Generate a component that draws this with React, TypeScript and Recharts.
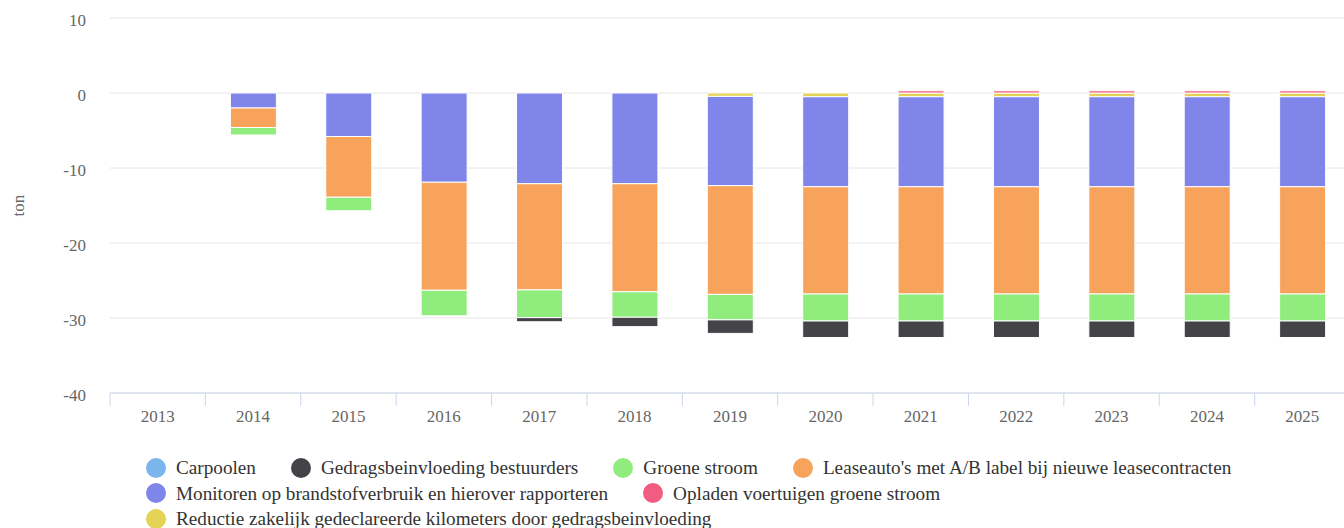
import React from 'react';
import { BarChart, Bar, XAxis, YAxis, CartesianGrid } from 'recharts';

const years = ['2013', '2014', '2015', '2016', '2017', '2018', '2019', '2020', '2021', '2022', '2023', '2024', '2025'];

const carpoolen = [0, 0, 0, 0, 0, 0, 0, 0, 0, 0, 0, 0, 0];
const gedragsbeinvloeding = [0, 0, 0, 0, -0.55, -1.25, -1.8, -2.2, -2.2, -2.2, -2.2, -2.2, -2.2];
const groeneStroom = [0, -1.0, -1.8, -3.4, -3.7, -3.4, -3.4, -3.6, -3.6, -3.6, -3.6, -3.6, -3.6];
const leaseauto = [0, -2.6, -8.1, -14.4, -14.15, -14.4, -14.5, -14.3, -14.3, -14.3, -14.3, -14.3, -14.3];
const monitoren = [0, -2.0, -5.8, -11.9, -12.1, -12.1, -11.9, -12.0, -12.0, -12.0, -12.0, -12.0, -12.0];
const opladen = [0, 0, 0, 0, 0, 0, 0, 0, 0.3, 0.3, 0.3, 0.3, 0.3];
const reductie = [0, 0, 0, 0, 0, 0, -0.45, -0.5, -0.5, -0.5, -0.5, -0.5, -0.5];

const yTicks = [-40, -30, -20, -10, 0, 10];

// legend order
const legendSeries = [
  { key: 'carpoolen', name: 'Carpoolen', color: '#7cb5ec' },
  { key: 'gedrags', name: 'Gedragsbeinvloeding bestuurders', color: '#434348' },
  { key: 'groene', name: 'Groene stroom', color: '#90ed7d' },
  { key: 'lease', name: "Leaseauto's met A/B label bij nieuwe leasecontracten", color: '#f7a35c' },
  { key: 'monitoren', name: 'Monitoren op brandstofverbruik en hierover rapporteren', color: '#8085e9' },
  { key: 'opladen', name: 'Opladen voertuigen groene stroom', color: '#f15c80' },
  { key: 'reductie', name: 'Reductie zakelijk gedeclareerde kilometers door gedragsbeinvloeding', color: '#e4d354' },
];

// stacking order (closest to zero first)
const stackOrder = ['reductie', 'monitoren', 'lease', 'groene', 'gedrags', 'carpoolen', 'opladen'];

const data = years.map((y, i) => ({
  year: y,
  carpoolen: carpoolen[i],
  gedrags: gedragsbeinvloeding[i],
  groene: groeneStroom[i],
  lease: leaseauto[i],
  monitoren: monitoren[i],
  opladen: opladen[i],
  reductie: reductie[i],
}));

const FONT = '"Liberation Serif", "Times New Roman", serif';
const TICK_SIZE = 13;
const TICK_MARGIN = 4;

const XTick = (props: any) => {
  const { x, y, payload } = props;
  const off = payload && payload.offset ? payload.offset : 0;
  const axisY = y - TICK_SIZE - TICK_MARGIN;
  return (
    <g>
      <line x1={x - off} x2={x - off} y1={axisY} y2={axisY + TICK_SIZE} stroke="#ccd6eb" strokeWidth={1} />
      <text x={x} y={y} dy="0.71em" textAnchor="middle" fill="#666666" fontFamily="Liberation Serif" style={{ fontSize: 17, fontFamily: FONT }}>
        {payload.value}
      </text>
    </g>
  );
};

const YTick = (props: any) => {
  const { x, y, payload } = props;
  return (
    <text x={x} y={y} dy="0.45em" textAnchor="end" fill="#666666" fontFamily="Liberation Serif" style={{ fontSize: 17, fontFamily: FONT }}>
      {payload.value}
    </text>
  );
};

const YLabel = (props: any) => {
  const vb = props.viewBox || {};
  const cx = 18;
  const cy = (vb.y || 0) + (vb.height || 0) / 2;
  return (
    <text x={cx} y={cy} transform={`rotate(-90 ${cx} ${cy})`} textAnchor="middle" dominantBaseline="central" fill="#666666" fontFamily="Liberation Serif" style={{ fontSize: 17, fontFamily: FONT }}>
      ton
    </text>
  );
};

export default function App() {
  const byKey: Record<string, { key: string; name: string; color: string }> = {};
  legendSeries.forEach((s) => (byKey[s.key] = s));
  return (
    <div style={{ position: 'absolute', left: 0, top: 0, width: 1344, height: 528, overflow: 'hidden', background: '#fff', fontFamily: FONT }}>
      <BarChart
        width={1352}
        height={435}
        data={data}
        stackOffset="sign"
        margin={{ top: 18, right: 2, left: 0, bottom: 0 }}
        barSize={46}
        style={{ fontFamily: FONT }}
      >
        <CartesianGrid vertical={false} stroke="#e6e6e6" />
        <XAxis
          dataKey="year"
          height={42}
          axisLine={{ stroke: '#ccd6eb' }}
          tickLine={false}
          tickSize={TICK_SIZE}
          tickMargin={TICK_MARGIN}
          tick={<XTick />}
          interval={0}
        />
        <YAxis
          width={110}
          domain={[-40, 10]}
          ticks={yTicks}
          allowDataOverflow
          axisLine={false}
          tickLine={false}
          tickSize={0}
          tickMargin={24}
          tick={<YTick />}
          label={<YLabel />}
        />
        {stackOrder.map((k) => (
          <Bar
            key={k}
            dataKey={k}
            name={byKey[k].name}
            stackId="a"
            fill={byKey[k].color}
            stroke="#ffffff"
            strokeWidth={1}
            isAnimationActive={false}
          />
        ))}
      </BarChart>
      <div
        style={{
          position: 'absolute',
          left: 146,
          top: 455,
          width: 1170,
          display: 'flex',
          flexWrap: 'wrap',
          fontSize: 19.2,
          color: '#333333',
          lineHeight: '25.5px',
        }}
      >
        {legendSeries.map((s) => (
          <div key={s.key} style={{ display: 'flex', alignItems: 'center', marginRight: 35, whiteSpace: 'nowrap' }}>
            <span style={{ display: 'inline-block', width: 20, height: 20, borderRadius: 10, background: s.color, marginRight: 10 }} />
            <span>{s.name}</span>
          </div>
        ))}
      </div>
    </div>
  );
}
